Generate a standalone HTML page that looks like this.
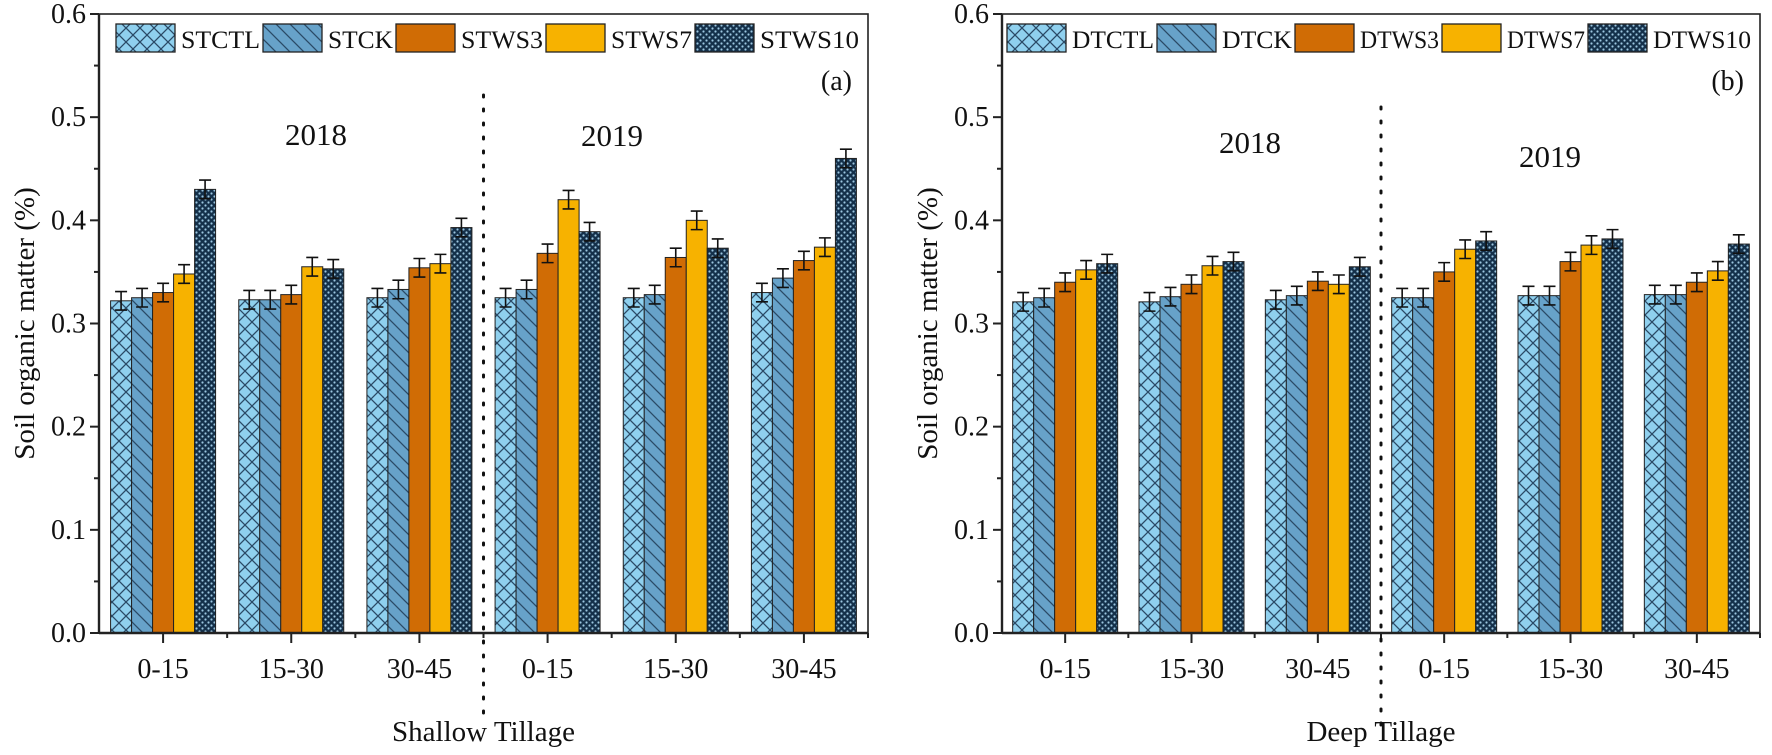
<!DOCTYPE html>
<html><head><meta charset="utf-8">
<style>
html,body{margin:0;padding:0;background:#fff;}
svg{display:block;font-family:"Liberation Serif",serif;}
svg text{font-family:"Liberation Serif",serif;}
</style></head>
<body>
<svg id="chart" width="1772" height="755" viewBox="0 0 1772 755" xmlns="http://www.w3.org/2000/svg" font-family="Liberation Serif, serif">
<defs>
<pattern id="p-ctl" patternUnits="userSpaceOnUse" width="14" height="14">
<rect width="14" height="14" fill="#8fd0ee"/>
<path d="M0,0L14,14M14,0L0,14" stroke="#2a4a66" stroke-width="1.3"/>
</pattern>
<pattern id="p-ck" patternUnits="userSpaceOnUse" width="14" height="14">
<rect width="14" height="14" fill="#67a2c9"/>
<path d="M0,0L14,14M-7,7L7,21M7,-7L21,7" stroke="#2a4a66" stroke-width="1.3"/>
</pattern>
<pattern id="p-ws10" patternUnits="userSpaceOnUse" width="6" height="6">
<rect width="6" height="6" fill="#14304a"/>
<circle cx="1.5" cy="1.5" r="1.1" fill="#9cc6df"/>
<circle cx="4.5" cy="4.5" r="1.1" fill="#9cc6df"/>
</pattern>
</defs>
</svg>
<script>
const categories = ["0-15","15-30","30-45","0-15","15-30","30-45"];
const yTicks = [0.0,0.1,0.2,0.3,0.4,0.5,0.6];
const seriesA = ["STCTL","STCK","STWS3","STWS7","STWS10"];
const seriesB = ["DTCTL","DTCK","DTWS3","DTWS7","DTWS10"];
const ctlA = [0.322,0.323,0.325,0.325,0.325,0.330];
const ckA = [0.325,0.323,0.333,0.333,0.328,0.344];
const ws3A = [0.330,0.328,0.354,0.368,0.364,0.361];
const ws7A = [0.348,0.355,0.358,0.420,0.400,0.374];
const ws10A = [0.430,0.353,0.393,0.389,0.373,0.460];
const ctlB = [0.321,0.321,0.323,0.325,0.327,0.328];
const ckB = [0.325,0.326,0.327,0.325,0.327,0.328];
const ws3B = [0.340,0.338,0.341,0.350,0.360,0.340];
const ws7B = [0.352,0.356,0.338,0.372,0.376,0.351];
const ws10B = [0.358,0.360,0.355,0.380,0.382,0.377];
const errVal = 0.009;

const NS="http://www.w3.org/2000/svg";
const svg=document.getElementById('chart');
const FF="Liberation Serif, serif";
const fills=["url(#p-ctl)","url(#p-ck)","#d06c05","#f7b200","url(#p-ws10)"];
function mk(tag,attrs,parent){const e=document.createElementNS(NS,tag);for(const k in attrs)e.setAttribute(k,attrs[k]);if(tag==='text')e.setAttribute('font-family',FF);(parent||svg).appendChild(e);return e;}

const Y0=633, Y6=14;
function yScale(v){return Y0-(v/0.6)*(Y0-Y6);}

function panel(cfg){
  const g=mk('g',{});
  
  
  const L=cfg.left,R=cfg.right,bw=(R-L)/categories.length;
  function xc(i){return L+bw*(i+0.5);}
  cfg.data.forEach((arr,s)=>{
    arr.forEach((v,i)=>{
      const x=xc(i)-52.5+s*21;
      const r=mk('rect',{x:x,y:yScale(v),width:21,height:Y0-yScale(v),fill:fills[s],stroke:"#222",'stroke-width':1},g);
      
      
      const cx=x+10.5,yt=yScale(v+errVal),yb=yScale(v-errVal);
      const eb=mk('path',{d:`M${cx},${yt}V${yb}M${cx-6},${yt}H${cx+6}M${cx-6},${yb}H${cx+6}`,stroke:"#111",'stroke-width':1.6,fill:"none"},g);
      
      
    });
  });
  const fr=mk('rect',{x:L,y:Y6,width:R-L,height:Y0-Y6,fill:"none",stroke:"#222",'stroke-width':1.6},g);
  
  
  mk('line',{x1:L,y1:Y6,x2:L,y2:Y0,stroke:"#222",'stroke-width':2.4},g);
  mk('line',{x1:L,y1:Y0,x2:R,y2:Y0,stroke:"#222",'stroke-width':2.4},g);
  yTicks.forEach((t,i)=>{
    const y=yScale(t);
    mk('line',{x1:L-9,y1:y,x2:L,y2:y,stroke:"#222",'stroke-width':2},g);
    if(i<yTicks.length-1){const ym=yScale(t+0.05);mk('line',{x1:L-5,y1:ym,x2:L,y2:ym,stroke:"#222",'stroke-width':2},g);}
    const tx=mk('text',{x:L-13,y:y+9,'text-anchor':'end','font-size':28,fill:"#111"},g);
    tx.textContent=t.toFixed(1);
    
    
  });
  categories.forEach((c,i)=>{
    mk('line',{x1:xc(i),y1:Y0,x2:xc(i),y2:Y0+10,stroke:"#222",'stroke-width':2},g);
    mk('line',{x1:L+bw*(i+1),y1:Y0,x2:L+bw*(i+1),y2:Y0+5,stroke:"#222",'stroke-width':2},g);
    const tx=mk('text',{x:xc(i),y:678,'text-anchor':'middle','font-size':28,fill:"#111"},g);
    tx.textContent=c;
    
    
  });
  const dx=L+bw*3;
  const dv=mk('line',{x1:dx,y1:cfg.divTop,x2:dx,y2:725,stroke:"#111",'stroke-width':3,'stroke-dasharray':"2,12",'stroke-linecap':'round'},g);
  
  
  [["2018",cfg.y18],["2019",cfg.y19]].forEach(([t,p])=>{
    const tx=mk('text',{x:p[0],y:p[1],'text-anchor':'middle','font-size':31,fill:"#111"},g);
    tx.textContent=t;
    
    
  });
  const pt=mk('text',{x:R-16,y:90,'text-anchor':'end','font-size':28,fill:"#111"},g);
  pt.textContent=cfg.tag;
  
  
  const yt=mk('text',{x:0,y:0,'text-anchor':'middle','font-size':29,fill:"#111",transform:`translate(${cfg.ytx},${(Y0+Y6)/2}) rotate(-90)`},g);
  yt.textContent="Soil organic matter (%)";
  
  
  const xt=mk('text',{x:dx,y:741,'text-anchor':'middle','font-size':29,fill:"#111"},g);
  xt.textContent=cfg.xtitle;
  
  
  cfg.series.forEach((s,i)=>{
    const bx=cfg.legX[i];
    const lr=mk('rect',{x:bx,y:24,width:59,height:28,fill:fills[i],stroke:"#222",'stroke-width':1.3},g);
    
    
    const next=(i<cfg.series.length-1)?cfg.legX[i+1]:R-6;
    const lt=mk('text',{x:bx+65,y:48,'font-size':25,fill:"#111",textLength:next-(bx+65)-3,lengthAdjust:'spacingAndGlyphs'},g);
    lt.textContent=s;
    
    
  });
}

panel({name:'panel-a-shallow-tillage',left:99,right:868,data:[ctlA,ckA,ws3A,ws7A,ws10A],series:seriesA,
  legX:[116,263,396,546,695],divTop:95,y18:[316,145],y19:[612,146],tag:"(a)",ytx:34,xtitle:"Shallow Tillage"});
panel({name:'panel-b-deep-tillage',left:1002,right:1760,data:[ctlB,ckB,ws3B,ws7B,ws10B],series:seriesB,
  legX:[1007,1157,1295,1442,1588],divTop:107,y18:[1250,153],y19:[1550,167],tag:"(b)",ytx:937,xtitle:"Deep Tillage"});
</script>
</body></html>
